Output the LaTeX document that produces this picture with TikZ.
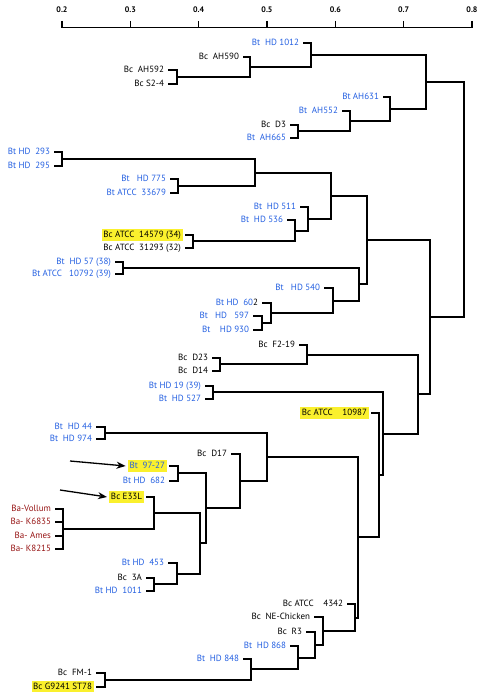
\documentclass[tikz,border=0pt]{standalone}
\usepackage{fontspec}
\setmainfont{PT Sans}
\usetikzlibrary{arrows.meta}

\definecolor{btblue}{RGB}{35,95,225}
\definecolor{bared}{RGB}{150,20,20}
\definecolor{hlyellow}{RGB}{250,240,45}

\tikzset{
  strain/.style={anchor=east, font=\fontsize{9}{10}\selectfont, inner xsep=1.5pt, inner ysep=1.6pt,
    outer xsep=2.5pt, outer ysep=0pt, text height=6.4pt, text depth=1.8pt},
  bt/.style={strain, text=btblue},
  bc/.style={strain, text=black},
  ba/.style={strain, text=bared},
  hl/.style={fill=hlyellow},
  branch/.style={line width=1.5pt},
  pointer/.style={-{Stealth[length=9pt,width=7pt]}, line width=1.3pt},
}

\begin{document}
\begin{tikzpicture}[x=1pt, y=-1pt]
  \useasboundingbox (0,0) rectangle (480,692);

  % Scale bar on top
  \draw[line width=1pt] (62,28) -- (472,28);
  \foreach \v [count=\i from 0] in {0.2,0.3,0.4,0.5,0.6,0.7,0.8} {
    \draw[line width=1.5pt] ({62+\i*68.33},21) -- ++(0,7);
    \node[font=\fontsize{8}{9}\selectfont\bfseries] (t\i) at ({62+\i*68.33},10) {\v};
  }

  % Bt strains
  \foreach \n/\x/\y/\t in {
    hdA/303/43/{Bt~~HD 1012},
    ah631/383/97/{Bt AH631},
    ah552/342/111/{Bt~~AH552},
    ah665/290/138/{Bt~~AH665},
    hd293/54/152/{Bt HD~~293},
    hd295/54/166/{Bt HD~~295},
    hd775/170/179/{Bt~~~HD 775},
    atcc33679/170/193/{Bt ATCC~~33679},
    hd511/300/207/{Bt~~HD 511},
    hd536/287/220/{Bt~~HD 536},
    hd57/115/262/{Bt~~HD 57 (38)},
    atcc10792/115/274/{Bt ATCC~~~10792 (39)},
    hd540/324/288/{Bt~~~HD 540},
    hd602/262/303/{Bt HD~~60{\color{black}2}},
    hd597/253/316/{Bt~~~HD~~~597},
    hd930/253/330/{Bt~~~~HD 930},
    hd19/205/386/{Bt HD 19 (39)},
    hd527/205/399/{Bt~~HD 527},
    hd44/96/427/{Bt~~HD 44},
    hd974/96/439/{Bt~~HD 974},
    hd682/169/481/{Bt HD~~682},
    hd453/168/563/{Bt HD~~453},
    hd1011/146/591/{Bt HD~~1011},
    hd868/290/646/{Bt~~HD 868},
    hd848/243/659/{Bt~~HD 848}}
    \node[bt] (\n) at (\x,\y) {\t};

  % Bc strains
  \foreach \n/\x/\y/\t in {
    ah590/243/57/{Bc~~AH590},
    ah592/168/70/{Bc~~AH592},
    s24/168/84/{Bc S2-4},
    d3/290/125/{Bc~~D3},
    atcc31293/185/248/{Bc ATCC~~31293 (32)},
    f219/299/345/{Bc~~F2-19},
    d23/212/358/{Bc~~D23},
    d14/212/371/{Bc~~D14},
    d17/231/454/{Bc~~D17},
    b3a/146/578/{Bc~~3A},
    atcc4342/347/604/{Bc ATCC~~~~4342},
    nechicken/314/617/{Bc~~NE-Chicken},
    r3/306/632/{Bc~~R3},
    fm1/96/673/{Bc~~FM-1}}
    \node[bc] (\n) at (\x,\y) {\t};

  % Ba strains
  \foreach \n/\y/\t in {vollum/509/{Ba-Vollum}, k6835/522/{Ba-~K6835},
                        ames/536/{Ba-~Ames}, k8215/549/{Ba-~K8215}}
    \node[ba] (\n) at (55,\y) {\t};

  % highlighted strains
  \node[bc, hl] (atcc14579) at (185,235) {Bc ATCC~~14579 (34)};
  \node[bc, hl] (atcc10987) at (371,413) {Bc ATCC~~~~10987};
  \node[bt, hl] (bt9727) at (169,466) {Bt~~97-27};
  \node[bc, hl] (e33l) at (146,497) {Bc E33L};
  \node[bc, hl] (g9241) at (96,687) {Bc G9241 ST78};

  % joints of the tree
  \foreach \n/\x/\y in {
    c1/177/77, c2/250/67, c3/311/55, c4/298/131, c5/350/121, c6/390/109, c7/426/82,
    g1/62/159, g2/178/186, g3/255/173, g4/193/241, g5/295/231, g6/308/219,
    g7/331/196, g8/123/268, g9/262/323, g10/271/313, g11/333/301, g12/359/284,
    g13/367/240, h1/220/364, h2/307/355, h3/213/392,
    j1/105/433, j2/178/473, j3/63/529, j4/154/513, j5/154/584, j6/177/574,
    j7/200/543, j8/206/508, j9/240/481, j10/267/457,
    k1/105/680, k2/251/669, k3/298/658, k4/315/645, k5/323/631, k6/355/618,
    k7/358/537, k8/379/475, k9/383/434, m1/418/394, m2/430/317, root/464/200}
    \coordinate (\n) at (\x,\y);

  % Branches
  \foreach \c/\p in {
    ah592/c1, s24/c1, ah590/c2, c1/c2, hdA/c3, c2/c3, d3/c4, ah665/c4, ah552/c5, c4/c5,
    ah631/c6, c5/c6, c3/c7, c6/c7,
    hd293/g1, hd295/g1, hd775/g2, atcc33679/g2, g1/g3, g2/g3, atcc14579/g4, atcc31293/g4,
    hd536/g5, g4/g5, hd511/g6, g5/g6, g3/g7, g6/g7, hd57/g8, atcc10792/g8,
    hd597/g9, hd930/g9, hd602/g10, g9/g10, hd540/g11, g10/g11, g8/g12, g11/g12,
    g7/g13, g12/g13,
    d23/h1, d14/h1, f219/h2, h1/h2, hd19/h3, hd527/h3,
    hd44/j1, hd974/j1, bt9727/j2, hd682/j2, vollum/j3, k6835/j3, ames/j3, k8215/j3,
    e33l/j4, j3/j4, b3a/j5, hd1011/j5, hd453/j6, j5/j6, j4/j7, j6/j7, j2/j8, j7/j8,
    d17/j9, j8/j9, j1/j10, j9/j10,
    fm1/k1, g9241/k1, hd848/k2, k1/k2, hd868/k3, k2/k3, r3/k4, k3/k4, nechicken/k5, k4/k5,
    atcc4342/k6, k5/k6, j10/k7, k6/k7, atcc10987/k8, k7/k8, h3/k9, k8/k9, h2/m1, k9/m1,
    g13/m2, m1/m2, c7/root, m2/root}
    \draw[branch] (\c) -| (\p);

  % arrows to the marked strains
  \coordinate (tailA) at (70,461);
  \coordinate (tailB) at (60,490);
  \draw[pointer] (tailA) -- (bt9727.west);
  \draw[pointer] (tailB) -- (e33l.west);

\end{tikzpicture}
\end{document}
